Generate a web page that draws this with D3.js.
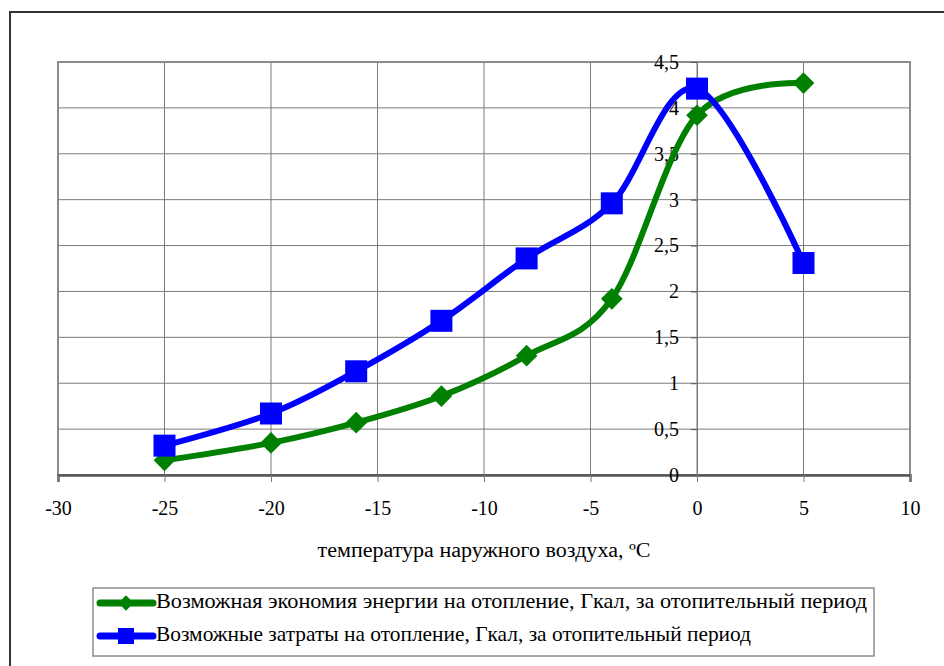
<!DOCTYPE html>
<html lang="en">
<head>
<meta charset="utf-8">
<script src="https://cdn.jsdelivr.net/npm/d3@7"></script>
<style>
  html, body { margin: 0; padding: 0; background: #fff; }
  svg { display: block; }
</style>
</head>
<body>
<svg id="chart" width="944" height="666"></svg>
<script>
// Outdoor temperature, °C
const temperatures = [-25, -20, -16, -12, -8, -4, 0, 5];
// Possible energy savings on heating, Gcal per heating season
const savings = [0.16, 0.35, 0.57, 0.86, 1.30, 1.92, 3.92, 4.27];
// Possible heating costs, Gcal per heating season
const costs = [0.32, 0.67, 1.13, 1.68, 2.36, 2.96, 4.21, 2.31];

const xTicks = [-30, -25, -20, -15, -10, -5, 0, 5, 10];
const yTicks = [0, 0.5, 1, 1.5, 2, 2.5, 3, 3.5, 4, 4.5];

const seriesNames = [
  "Возможная экономия энергии на отопление, Гкал, за отопительный период",
  "Возможные затраты на отопление, Гкал, за отопительный период"
];
const xTitle = "температура наружного воздуха, ºС";

const FONT = "'Liberation Serif'";

const svg = d3.select("#chart").style("font-family", FONT);
const plot = { left: 58, right: 910, top: 62, bottom: 475 };

const x = d3.scaleLinear().domain([-30, 10]).range([plot.left, plot.right]);
const y = d3.scaleLinear().domain([0, 4.5]).range([plot.bottom, plot.top]);
const fmt = d => String(d).replace(".", ",");

// Outer chart frame (runs off the right and bottom edges)
svg.append("rect")
  .attr("x", 10).attr("y", 12).attr("width", 980).attr("height", 700)
  .attr("fill", "none").attr("stroke", "#333").attr("stroke-width", 2);

// Grid
const grid = svg.append("g");
grid.selectAll("line.h").data(yTicks).join("line")
  .attr("x1", plot.left).attr("x2", plot.right)
  .attr("y1", d => y(d)).attr("y2", d => y(d))
  .attr("stroke", "#7a7a7a").attr("stroke-width", 1);
grid.selectAll("line.v").data(xTicks).join("line")
  .attr("y1", plot.top).attr("y2", plot.bottom)
  .attr("x1", d => x(d)).attr("x2", d => x(d))
  .attr("stroke", "#7a7a7a").attr("stroke-width", 1);

// Plot area frame
svg.append("rect")
  .attr("x", plot.left).attr("y", plot.top)
  .attr("width", plot.right - plot.left).attr("height", plot.bottom - plot.top)
  .attr("fill", "none").attr("stroke", "#8c8c8c").attr("stroke-width", 2);

// X axis along y = 0
const xAxis = svg.append("g")
  .attr("transform", `translate(0,${y(0)})`)
  .call(d3.axisBottom(x).tickValues(xTicks).tickFormat(fmt).tickSize(7).tickPadding(19));
xAxis.attr("font-family", null).attr("font-size", 20);
xAxis.select(".domain").attr("stroke", "#555").attr("stroke-width", 2.5);
xAxis.selectAll(".tick line").attr("stroke", "#7a7a7a");
xAxis.selectAll(".tick text").style("font-family", FONT).style("font-size", "20px").attr("fill", "#000");

// Y axis crossing at x = 0
const yAxis = svg.append("g")
  .attr("transform", `translate(${x(0)},0)`)
  .call(d3.axisLeft(y).tickValues(yTicks).tickFormat(fmt).tickSize(6).tickPadding(12));
yAxis.attr("font-family", null).attr("font-size", 20);
yAxis.select(".domain").attr("stroke", "#7a7a7a").attr("stroke-width", 1);
yAxis.selectAll(".tick line").attr("stroke", "#555");
yAxis.selectAll(".tick text").style("font-family", FONT).style("font-size", "20px").attr("fill", "#000");

// Axis title
svg.append("text")
  .attr("x", (plot.left + plot.right) / 2).attr("y", 557)
  .attr("text-anchor", "middle")
  .style("font-family", FONT).style("font-size", "20px")
  .attr("textLength", 333).attr("lengthAdjust", "spacingAndGlyphs")
  .text(xTitle);

const line = d3.line()
  .x((d, i) => x(temperatures[i]))
  .y(d => y(d))
  .curve(d3.curveCatmullRom.alpha(0));

const green = "#008000", blue = "#0000ff";

// Savings line and diamonds
svg.append("path").datum(savings).attr("d", line)
  .attr("fill", "none").attr("stroke", green).attr("stroke-width", 6)
  .attr("stroke-linejoin", "round");
const diamond = d3.symbol().type(d3.symbolDiamond2).size(300);
svg.selectAll("path.dia").data(savings).join("path")
  .attr("class", "dia")
  .attr("d", diamond)
  .attr("transform", (d, i) => `translate(${x(temperatures[i])},${y(d)})`)
  .attr("fill", green);

// Costs line and squares
svg.append("path").datum(costs).attr("d", line)
  .attr("fill", "none").attr("stroke", blue).attr("stroke-width", 6)
  .attr("stroke-linejoin", "round");
const sq = 22;
svg.selectAll("rect.sq").data(costs).join("rect")
  .attr("class", "sq")
  .attr("x", (d, i) => x(temperatures[i]) - sq / 2)
  .attr("y", d => y(d) - sq / 2)
  .attr("width", sq).attr("height", sq)
  .attr("fill", blue);

// Legend
const legend = svg.append("g");
legend.append("rect")
  .attr("x", 93).attr("y", 588).attr("width", 781).attr("height", 68)
  .attr("fill", "#fff").attr("stroke", "#8c8c8c").attr("stroke-width", 1.5);

const legendItems = [
  { name: seriesNames[0], color: green, marker: "diamond", y: 603, width: 711 },
  { name: seriesNames[1], color: blue, marker: "square", y: 636, width: 595 }
];
legendItems.forEach(item => {
  legend.append("line")
    .attr("x1", 100).attr("x2", 153).attr("y1", item.y).attr("y2", item.y)
    .attr("stroke", item.color).attr("stroke-width", 7).attr("stroke-linecap", "round");
  if (item.marker === "diamond") {
    legend.append("path")
      .attr("d", d3.symbol().type(d3.symbolDiamond2).size(150))
      .attr("transform", `translate(126,${item.y})`)
      .attr("fill", item.color);
  } else {
    legend.append("rect")
      .attr("x", 118).attr("y", item.y - 8).attr("width", 16).attr("height", 16)
      .attr("fill", item.color);
  }
  legend.append("text")
    .attr("x", 156).attr("y", item.y + 5)
    .style("font-family", FONT).style("font-size", "22px")
    .attr("textLength", item.width).attr("lengthAdjust", "spacingAndGlyphs")
    .text(item.name);
});
</script>
</body>
</html>
